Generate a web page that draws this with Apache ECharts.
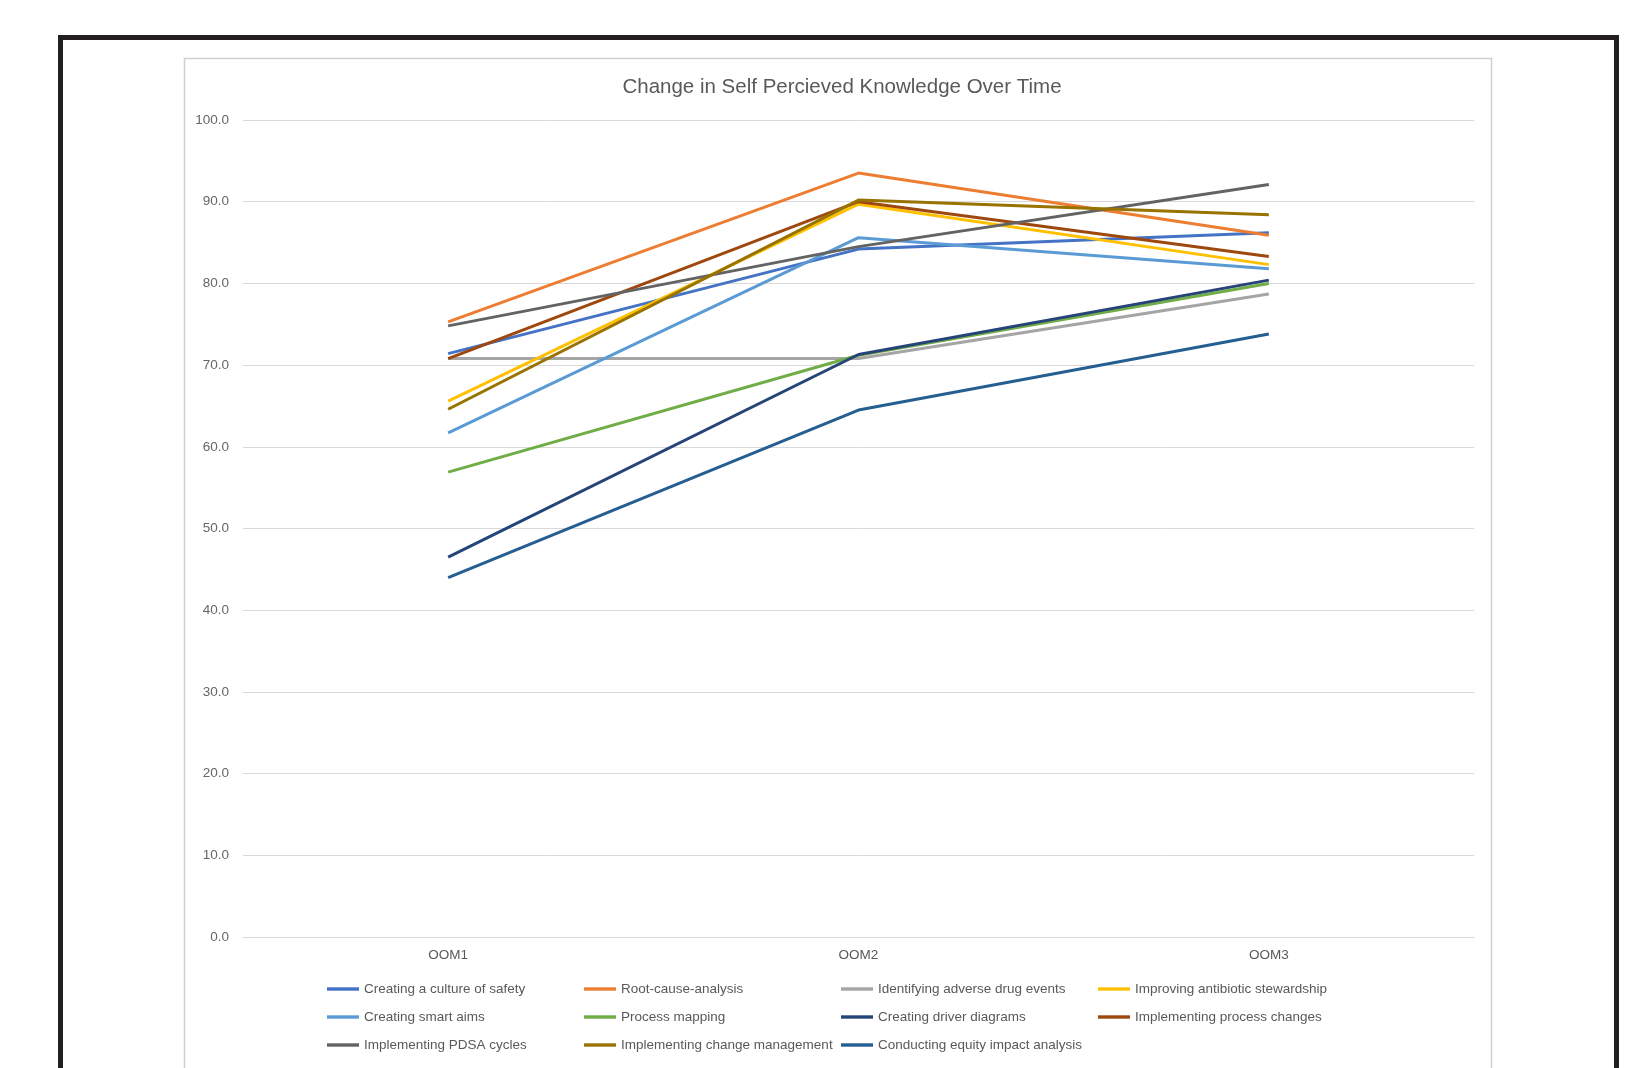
<!DOCTYPE html>
<html>
<head>
<meta charset="utf-8">
<script src="https://cdn.jsdelivr.net/npm/echarts@6/dist/echarts.min.js"></script>
<style>
html,body{margin:0;padding:0;background:#fff;}
#chart{width:1646px;height:1068px;}
</style>
</head>
<body>
<div id="chart"></div>
<script>
const categories = ['OOM1', 'OOM2', 'OOM3'];
const yTicks = [0, 10, 20, 30, 40, 50, 60, 70, 80, 90, 100];

const seriesNames = [
  'Creating a culture of safety',
  'Root-cause-analysis',
  'Identifying adverse drug events',
  'Improving antibiotic stewardship',
  'Creating smart aims',
  'Process mapping',
  'Creating driver diagrams',
  'Implementing process changes',
  'Implementing PDSA cycles',
  'Implementing change management',
  'Conducting equity impact analysis'
];

const cultureOfSafety = [71.4, 84.2, 86.2];
const rootCauseAnalysis = [75.3, 93.5, 85.9];
const adverseDrugEvents = [70.8, 70.8, 78.7];
const antibioticStewardship = [65.6, 89.7, 82.3];
const smartAims = [61.7, 85.6, 81.8];
const processMapping = [56.9, 71.2, 80.0];
const driverDiagrams = [46.5, 71.3, 80.4];
const processChanges = [70.8, 90.0, 83.3];
const pdsaCycles = [74.8, 84.5, 92.1];
const changeManagement = [64.6, 90.2, 88.4];
const equityImpact = [44.0, 64.5, 73.8];

const seriesValues = [
  cultureOfSafety, rootCauseAnalysis, adverseDrugEvents, antibioticStewardship,
  smartAims, processMapping, driverDiagrams, processChanges,
  pdsaCycles, changeManagement, equityImpact
];

const colors = ['#4472C4', '#ED7D31', '#A5A5A5', '#FFC000', '#5B9BD5', '#70AD47',
  '#264478', '#9E480E', '#636363', '#997300', '#255E91'];

const legendColumns = [
  [0, 4, 8],
  [1, 5, 9],
  [2, 6, 10],
  [3, 7]
];
const legendLefts = [327, 584, 841, 1098];

const fontFam = '"Liberation Sans", Arial, sans-serif';
const chart = echarts.init(document.getElementById('chart'));

const legends = legendColumns.map((col, i) => ({
  orient: 'vertical',
  left: legendLefts[i],
  top: 982,
  padding: 0,
  itemWidth: 32,
  itemHeight: 14,
  itemGap: 14,
  icon: 'path://M0,0 L32,0 L32,3.4 L0,3.4 Z',
  data: col.map(k => seriesNames[k]),
  textStyle: { color: '#595959', fontSize: 13.5, fontFamily: fontFam },
  selectedMode: false
}));

const option = {
  animation: false,
  color: colors,
  graphic: [
    {
      type: 'rect',
      shape: { x: 60.5, y: 37.5, width: 1556, height: 1200 },
      style: { fill: 'none', stroke: '#231F20', lineWidth: 5 },
      silent: true
    },
    {
      type: 'rect',
      shape: { x: 184.5, y: 58.5, width: 1307, height: 1200 },
      style: { fill: 'none', stroke: '#D0D0D0', lineWidth: 1.5 },
      silent: true
    },
    {
      type: 'text',
      style: {
        text: 'Change in Self Percieved Knowledge Over Time',
        x: 842, y: 77, textAlign: 'center', textVerticalAlign: 'top',
        fontSize: 20.5, fill: '#595959', fontFamily: fontFam
      },
      silent: true
    }
  ],
  legend: legends,
  grid: { left: 243, right: 172, top: 120, bottom: 131, containLabel: false },
  xAxis: {
    type: 'category',
    data: categories,
    boundaryGap: true,
    axisLine: { show: true, lineStyle: { color: '#D9D9D9', width: 1 } },
    axisTick: { show: false },
    axisLabel: { color: '#595959', fontSize: 13.5, margin: 11, fontFamily: fontFam }
  },
  yAxis: {
    type: 'value',
    min: yTicks[0],
    max: yTicks[yTicks.length - 1],
    interval: 10,
    axisLine: { show: false },
    axisTick: { show: false },
    splitLine: { lineStyle: { color: '#D9D9D9', width: 1 } },
    axisLabel: {
      color: '#666666', fontSize: 13.5, margin: 14, fontFamily: fontFam,
      formatter: v => v.toFixed(1)
    }
  },
  series: seriesNames.map((name, i) => ({
    name: name,
    type: 'line',
    data: seriesValues[i],
    symbol: 'none',
    lineStyle: { width: 3, color: colors[i] },
    itemStyle: { color: colors[i] },
    emphasis: { disabled: true }
  }))
};

chart.setOption(option);
</script>
</body>
</html>
